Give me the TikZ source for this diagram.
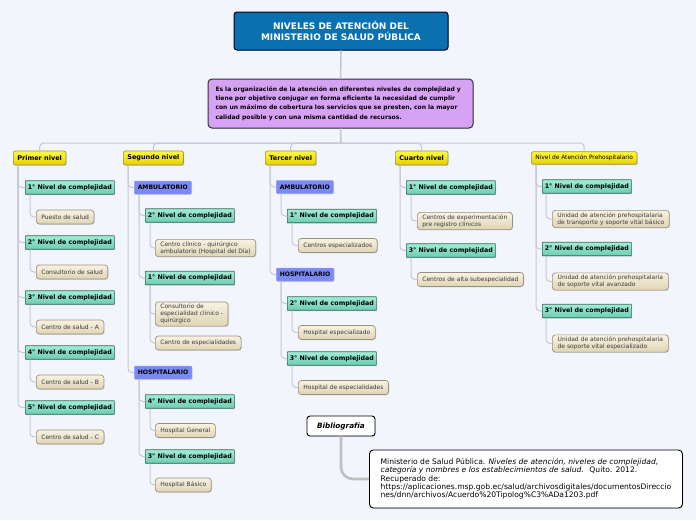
\documentclass[tikz,border=0pt]{standalone}
\usepackage{fontspec}
\setmainfont{DejaVu Sans}
\usetikzlibrary{calc,shadows}

\definecolor{bg}{HTML}{F3F5FD}
\definecolor{linegray}{HTML}{C6C7D2}
\definecolor{titleblue}{HTML}{0A70AF}
\definecolor{lilac}{HTML}{D7A2F6}
\definecolor{ambblue}{HTML}{7A8AF2}
\definecolor{mint}{HTML}{78E4C4}
\definecolor{sand}{HTML}{F2E6C4}
\definecolor{leaftext}{HTML}{3A3A3A}

\begin{document}
\begin{tikzpicture}[x=1pt, y=-1pt,
	conn/.style={draw=linegray, line width=1pt, rounded corners=4pt},
	softshadow/.style={drop shadow={opacity=0.25, shadow xshift=0.8pt, shadow yshift=-0.8pt}},
	levelbox/.style={anchor=west, draw=black!45!yellow!70!gray, line width=0.7pt, rounded corners=2pt,
		top color=yellow!60!orange!25!white!30!yellow, bottom color=yellow!80!orange!90!black,
		minimum height=14pt, inner xsep=4pt, font=\fontsize{6.5}{7.5}\selectfont\bfseries, softshadow},
	cmpbox/.style={anchor=west, draw=black!55!mint, line width=0.7pt, rounded corners=0.5pt,
		top color=mint!70!white, bottom color=mint!90!black,
		minimum width=89pt, minimum height=13.5pt, inner sep=1pt, font=\fontsize{6.3}{7.5}\selectfont\bfseries, softshadow},
	careabox/.style={anchor=west, fill=ambblue, draw=ambblue!80!white, line width=0.5pt, rounded corners=1pt,
		minimum height=13pt, inner xsep=3.5pt, font=\fontsize{6.1}{7.5}\selectfont\bfseries, softshadow},
	leafbox/.style={anchor=west, draw=black!35!sand!80!gray, line width=0.7pt, rounded corners=3pt,
		top color=sand!50!white, bottom color=sand!92!black, text=leaftext, align=left,
		minimum height=14pt, inner xsep=5pt, inner ysep=2pt, font=\fontsize{6}{7.2}\selectfont, softshadow}]

	\fill[bg] (0,0) rectangle (696,520);
	\useasboundingbox (0,0) rectangle (696,520);

	\node[draw=black!85!blue, line width=1pt, rounded corners=3pt, fill=titleblue, text=white,
		minimum width=214pt, minimum height=38pt, align=center, softshadow,
		font=\fontsize{9}{11}\selectfont\bfseries] (title) at (341,31)
		{NIVELES DE ATENCIÓN DEL\\MINISTERIO DE SALUD PÚBLICA};
	\node[draw=black!80, line width=1pt, rounded corners=4pt, fill=lilac, text width=250pt,
		minimum width=265pt, minimum height=49pt, align=left, softshadow,
		font=\fontsize{6.05}{9.3}\selectfont\bfseries] (desc) at (340.5,103.5)
		{Es la organización de la atención en diferentes niveles de complejidad y\\
		tiene por objetivo conjugar en forma eficiente la necesidad de cumplir\\
		con un máximo de cobertura los servicios que se presten, con la mayor\\
		calidad posible y con una misma cantidad de recursos.};

	\node[levelbox] (l1) at (13,158) {Primer nivel};
	\node[levelbox] (l2) at (123,158) {Segundo nivel};
	\node[levelbox] (l3) at (265,158) {Tercer nivel};
	\node[levelbox] (l4) at (395,158) {Cuarto nivel};
	\node[levelbox, minimum height=12.5pt, font=\fontsize{5.9}{7}\selectfont] (l5) at (531,158)
		{Nivel de Atención Prehospitalario};

	\coordinate (bus) at (341,143);
	\draw[draw=linegray, line width=1.6pt] (title.south) -- (desc.north);
	\draw[draw=linegray, line width=1.6pt] (desc.south) -- (bus);
	\foreach \l in {1,...,5}
		\draw[conn] (bus) -| (l\l.north);

	% primer nivel
	\foreach \i/\leaf in {1/Puesto de salud, 2/Consultorio de salud, 3/Centro de salud - A,
			4/Centro de salud - B, 5/Centro de salud - C} {
		\pgfmathsetmacro\y{187.5+55*(\i-1)}
		\node[cmpbox] (pc\i) at (25,\y) {\i° Nivel de complejidad};
		\node[leafbox] (pl\i) at (36,\y+29.5) {\leaf};
		\draw[conn] ($(l1.south west)+(5,0)$) |- (pc\i.west);
		\draw[conn] ($(pc\i.south west)+(5,0)$) |- (pl\i.west);
	}

	% segundo nivel
	\node[careabox] (sa) at (134,187.5) {AMBULATORIO};
	\node[careabox] (sh) at (134,372.5) {HOSPITALARIO};
	\node[cmpbox] (sa2) at (145,215.5) {2° Nivel de complejidad};
	\node[cmpbox] (sa1) at (145,278) {1° Nivel de complejidad};
	\node[cmpbox] (sh4) at (145,401.5) {4° Nivel de complejidad};
	\node[cmpbox] (sh3) at (145,456.5) {3° Nivel de complejidad};
	\node[leafbox] (sa2a) at (155,248) {Centro clínico - quirúrgico\\ambulatorio (Hospital del Día)};
	\node[leafbox] (sa1a) at (155,314) {Consultorio de\\especialidad clínico -\\quirúrgico};
	\node[leafbox] (sa1b) at (155,343) {Centro de especialidades};
	\node[leafbox] (sh4a) at (155,430.5) {Hospital General};
	\node[leafbox] (sh3a) at (155,485) {Hospital Básico};
	\foreach \c in {sa,sh}
		\draw[conn] ($(l2.south west)+(5,0)$) |- (\c.west);
	\foreach \p/\c in {sa/sa2, sa/sa1, sh/sh4, sh/sh3, sa2/sa2a, sa1/sa1a, sa1/sa1b, sh4/sh4a, sh3/sh3a}
		\draw[conn] ($(\p.south west)+(5,0)$) |- (\c.west);

	% tercer nivel
	\node[careabox] (ta) at (276,187) {AMBULATORIO};
	\node[careabox] (th) at (276,274.5) {HOSPITALARIO};
	\node[cmpbox] (ta1) at (287,216) {1° Nivel de complejidad};
	\node[cmpbox] (th2) at (287,303.5) {2° Nivel de complejidad};
	\node[cmpbox] (th3) at (287,358.5) {3° Nivel de complejidad};
	\node[leafbox] (ta1a) at (298,245.5) {Centros especializados};
	\node[leafbox] (th2a) at (298,332.5) {Hospital especializado};
	\node[leafbox] (th3a) at (298,387.5) {Hospital de especialidades};
	\foreach \c in {ta,th}
		\draw[conn] ($(l3.south west)+(5,0)$) |- (\c.west);
	\foreach \p/\c in {ta/ta1, th/th2, th/th3, ta1/ta1a, th2/th2a, th3/th3a}
		\draw[conn] ($(\p.south west)+(5,0)$) |- (\c.west);

	% cuarto nivel
	\node[cmpbox] (c1) at (406,187.5) {1° Nivel de complejidad};
	\node[cmpbox] (c3) at (406,250.5) {3° Nivel de complejidad};
	\node[leafbox] (c1a) at (417,221) {Centros de experimentación\\pre registro clínicos};
	\node[leafbox] (c3a) at (417,279.5) {Centros de alta subespecialidad};
	\foreach \p/\c in {l4/c1, l4/c3, c1/c1a, c3/c3a}
		\draw[conn] ($(\p.south west)+(5,0)$) |- (\c.west);

	% prehospitalario
	\foreach \i/\y/\leaf in {1/186.5/de transporte y soporte vital básico, 2/249/de soporte vital avanzado,
			3/311/de soporte vital especializado} {
		\node[cmpbox] (pv\i) at (542,\y) {\i° Nivel de complejidad};
		\node[leafbox, minimum width=116pt] (pv\i a) at (552,\y+32.5) {Unidad de atención prehospitalaria\\\leaf};
		\draw[conn] ($(l5.south west)+(5,0)$) |- (pv\i.west);
		\draw[conn] ($(pv\i.south west)+(4,0)$) |- (pv\i a.west);
	}

	% bibliografia
	\node[draw=black, line width=0.9pt, rounded corners=3pt, fill=white, minimum width=68pt,
		minimum height=20pt, softshadow, font=\fontsize{7.3}{8}\selectfont\bfseries\itshape] (bib) at (341,426)
		{Bibliografía};
	\node[anchor=west, draw=black, line width=0.9pt, rounded corners=4pt, fill=white, minimum width=313pt,
		minimum height=58pt, align=left, inner xsep=6pt, softshadow, font=\fontsize{7.6}{8.3}\selectfont] (ref) at (369,479)
		{Ministerio de Salud Pública. \textit{Niveles de atención, niveles de complejidad,}\\
		\textit{categoría y nombres e los establecimientos de salud.}~ Quito. 2012.\\
		Recuperado de:\\
		https://aplicaciones.msp.gob.ec/salud/archivosdigitales/documentosDireccio\\
		nes/dnn/archivos/Acuerdo\%20Tipolog\%C3\%ADa1203.pdf};
	\draw[draw=black!25, line width=2.6pt, rounded corners=12pt] (bib.south) |- (ref.west);
\end{tikzpicture}
\end{document}
